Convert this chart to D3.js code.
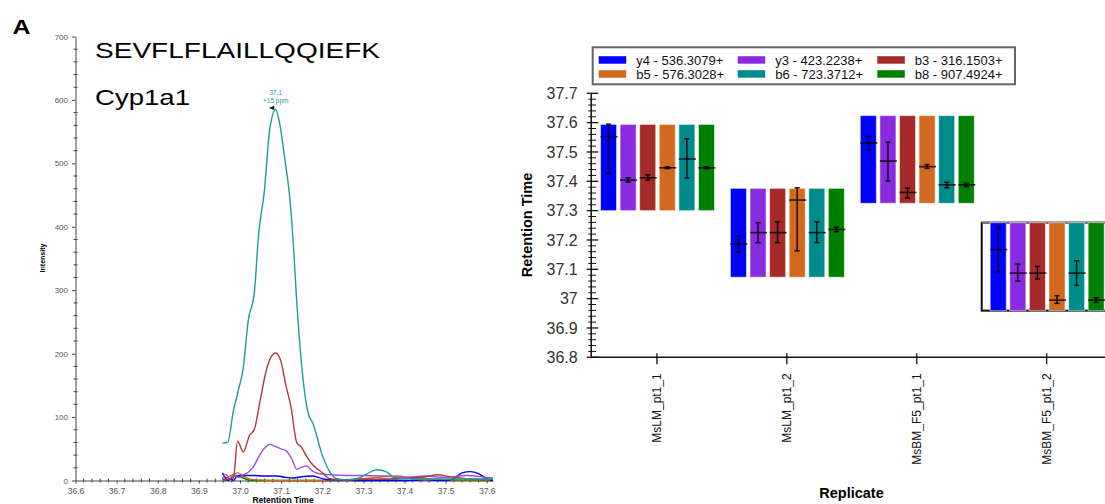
<!DOCTYPE html>
<html><head><meta charset="utf-8">
<script src="https://cdn.jsdelivr.net/npm/d3@7"></script>
<style>body{margin:0;background:#fff}svg{display:block;font-family:"Liberation Sans",Arial,sans-serif}</style>
</head><body><svg id="c" width="1105" height="504"></svg>
<script>
// ---------- Chromatogram (left) data ----------
const chromXTicks = [36.6, 36.7, 36.8, 36.9, 37.0, 37.1, 37.2, 37.3, 37.4, 37.5, 37.6];
const chromYTicks = [0, 100, 200, 300, 400, 500, 600, 700];
const b6Trace = [[36.957,59],[36.970,60],[36.984,110],[36.996,142],[37.008,178],[37.020,252],[37.035,297],[37.045,386],[37.059,455],[37.073,557],[37.087,585],[37.098,557],[37.109,507],[37.122,439],[37.130,370],[37.137,292],[37.165,108],[37.178,89],[37.199,42],[37.219,13],[37.235,3],[37.26,1],[37.29,4],[37.31,11],[37.333,17],[37.355,14],[37.375,5],[37.40,3],[37.45,2],[37.50,2],[37.55,3],[37.60,2],[37.615,2]];
const b3Trace = [[36.957,1],[36.970,2],[36.984,4],[36.994,62],[37.008,45],[37.023,71],[37.035,81],[37.049,126],[37.063,171],[37.075,194],[37.087,201],[37.099,189],[37.111,152],[37.124,116],[37.138,60],[37.150,52],[37.162,38],[37.178,24],[37.199,13],[37.219,3],[37.25,1],[37.30,2],[37.35,2],[37.40,3],[37.45,6],[37.48,9],[37.51,6],[37.55,3],[37.60,2],[37.615,2]];
const y3Trace = [[36.957,2],[36.965,10],[36.975,3],[36.984,8],[36.996,5],[37.008,9],[37.020,13],[37.032,21],[37.047,39],[37.061,52],[37.073,57],[37.085,54],[37.099,50],[37.112,47],[37.126,34],[37.138,18],[37.150,21],[37.162,23],[37.174,16],[37.190,11],[37.22,9],[37.26,8],[37.30,8],[37.35,7],[37.40,5],[37.45,7],[37.50,5],[37.55,8],[37.60,5],[37.615,4]];
const y4Trace = [[36.957,12],[36.965,4],[36.972,0],[36.978,3],[36.984,0],[36.992,6],[37.00,8],[37.03,8],[37.06,7],[37.09,7],[37.11,5],[37.13,4],[37.15,6],[37.175,7],[37.20,3],[37.22,1],[37.25,1],[37.30,0],[37.40,0],[37.45,1],[37.50,0],[37.52,3],[37.54,12],[37.56,14],[37.58,11],[37.60,3],[37.615,0]];
const b5Trace = [[36.957,0],[36.970,5],[36.985,10],[36.995,12],[37.005,8],[37.02,3],[37.04,1],[37.10,0],[37.20,0],[37.25,1],[37.30,3],[37.35,6],[37.38,7],[37.42,4],[37.50,2],[37.60,1],[37.615,1]];
const b8Trace = [[36.957,0],[36.975,2],[36.990,8],[37.000,6],[37.015,2],[37.03,0],[37.20,0],[37.30,0],[37.35,2],[37.42,4],[37.50,1],[37.60,0],[37.615,0]];
const peakLabel = ["37.1", "+15 ppm"];

// ---------- Retention time (right) data ----------
const replicates = ["MsLM_pt1_1", "MsLM_pt1_2", "MsBM_F5_pt1_1", "MsBM_F5_pt1_2"];
const ionLabels = ["y4 - 536.3079+", "y3 - 423.2238+", "b3 - 316.1503+", "b5 - 576.3028+", "b6 - 723.3712+", "b8 - 907.4924+"];
const ionColors = ["#0000FF", "#8A2BE2", "#A52A2A", "#D2691E", "#008B8B", "#008000"];
const rtTicks = [36.8, 36.9, 37, 37.1, 37.2, 37.3, 37.4, 37.5, 37.6, 37.7];
const peakStart = [37.300, 37.073, 37.325, 36.959];
const peakEnd   = [37.594, 37.376, 37.624, 37.259];
// [ion][replicate]
const apexRT = [
  [37.552, 37.186, 37.531, 37.167],
  [37.404, 37.225, 37.469, 37.087],
  [37.412, 37.225, 37.362, 37.087],
  [37.446, 37.336, 37.450, 36.995],
  [37.476, 37.225, 37.388, 37.087],
  [37.446, 37.236, 37.388, 36.995]];
const rangeLow = [
  [37.427, 37.159, 37.507, 37.091],
  [37.397, 37.191, 37.401, 37.060],
  [37.404, 37.191, 37.343, 37.067],
  [37.443, 37.163, 37.444, 36.984],
  [37.411, 37.191, 37.378, 37.045],
  [37.443, 37.228, 37.382, 36.987]];
const rangeHigh = [
  [37.595, 37.213, 37.553, 37.243],
  [37.412, 37.259, 37.534, 37.118],
  [37.422, 37.262, 37.377, 37.110],
  [37.449, 37.378, 37.457, 37.010],
  [37.545, 37.262, 37.397, 37.129],
  [37.449, 37.244, 37.393, 37.003]];
const selectedReplicate = 3;

const svg = d3.select("#c");

// ---------- Panel label & titles (source image is horizontally stretched) ----------
svg.append("text").attr("x", 12.5).attr("y", 34).attr("font-size", 20).attr("font-weight", "bold")
  .attr("textLength", 18).attr("lengthAdjust", "spacingAndGlyphs").text("A");
svg.append("text").attr("x", 95).attr("y", 57.5).attr("font-size", 22)
  .attr("textLength", 285).attr("lengthAdjust", "spacingAndGlyphs").text("SEVFLFLAILLQQIEFK");
svg.append("text").attr("x", 95).attr("y", 104.5).attr("font-size", 22)
  .attr("textLength", 95).attr("lengthAdjust", "spacingAndGlyphs").text("Cyp1a1");

// ---------- Left chromatogram ----------
const cx = d3.scaleLinear().domain([36.6, 37.615]).range([75.5, 492.9]);
const cy = d3.scaleLinear().domain([0, 700]).range([480.5, 36.5]);

const lg = svg.append("g");
const yAx = lg.append("g").attr("transform", "translate(75.5,0)")
  .call(d3.axisLeft(cy).tickValues(chromYTicks).tickSizeInner(3.5).tickSizeOuter(0).tickPadding(4).tickFormat(d3.format("d")));
yAx.selectAll("text").attr("font-size", 8).attr("fill", "#555").attr("font-family", "Liberation Sans, Arial");
yAx.selectAll("line,path").attr("stroke", "#444");
const yMinor = d3.range(0, 701, 20).filter(v => v % 100 !== 0);
lg.append("g").selectAll("line").data(yMinor).join("line")
  .attr("x1", 73.5).attr("x2", 77.5).attr("y1", d => cy(d)).attr("y2", d => cy(d)).attr("stroke", "#444");
const xAx = lg.append("g").attr("transform", "translate(0,480.5)")
  .call(d3.axisBottom(cx).tickValues(chromXTicks).tickSizeInner(3).tickSizeOuter(0).tickPadding(4).tickFormat(d3.format(".1f")));
xAx.selectAll("text").attr("font-size", 8.5).attr("fill", "#555").attr("font-family", "Liberation Sans, Arial");
xAx.selectAll("line,path").attr("stroke", "#444");
const xMinor = d3.range(0, 51).map(i => 36.6 + i * 0.02).filter(v => Math.abs(v * 10 - Math.round(v * 10)) > 1e-6 && v <= 37.615);
lg.append("g").selectAll("line").data(xMinor).join("line")
  .attr("x1", d => cx(d)).attr("x2", d => cx(d)).attr("y1", 478.5).attr("y2", 482.5).attr("stroke", "#444");
lg.append("text").attr("transform", "translate(45,258) rotate(-90)").attr("text-anchor", "middle")
  .attr("font-size", 7).attr("font-weight", "bold").text("Intensity");
lg.append("text").attr("x", 283).attr("y", 503).attr("text-anchor", "middle")
  .attr("font-size", 8.5).attr("font-weight", "bold").text("Retention Time");

const line = d3.line().x(d => cx(d[0])).y(d => cy(d[1])).curve(d3.curveMonotoneX);
const traces = [[b8Trace, ionColors[5]], [b5Trace, ionColors[3]], [y4Trace, ionColors[0]], [y3Trace, "#9B4DF0"], [b3Trace, "#B03A3A"], [b6Trace, "#1A9E9E"]];
lg.append("g").selectAll("path").data(traces).join("path")
  .attr("d", d => line(d[0])).attr("fill", "none").attr("stroke", d => d[1]).attr("stroke-width", 1.4);

const apex = b6Trace.reduce((a, b) => b[1] > a[1] ? b : a);
const ax = cx(apex[0]), ay = cy(apex[1]);
lg.append("text").attr("x", ax).attr("y", ay - 14).attr("text-anchor", "middle").attr("font-size", 6.5).attr("fill", "#20A0A0").text(peakLabel[0]);
lg.append("text").attr("x", ax).attr("y", ay - 6.5).attr("text-anchor", "middle").attr("font-size", 6.5).attr("fill", "#20A0A0").text(peakLabel[1]);
lg.append("path").attr("d", `M${ax - 7},${ay - 1.5} L${ax - 1.5},${ay - 3.8} L${ax - 1.5},${ay + 0.5} Z`).attr("fill", "#111");

// ---------- Right retention time chart ----------
const ry = d3.scaleLinear().domain([36.8, 37.7]).range([357.3, 93.3]);
const rx0 = d3.scaleBand().domain(replicates).range([592, 1111.6]);
const rx1 = d3.scaleBand().domain(ionLabels).range([8.5, 122.5]).paddingInner(0.18).paddingOuter(0);

const rg = svg.append("g");

const selRep = replicates[selectedReplicate];
rg.append("rect").attr("x", rx0(selRep)).attr("y", ry(peakEnd[selectedReplicate]))
  .attr("width", rx0.bandwidth() + 5).attr("height", ry(peakStart[selectedReplicate]) - ry(peakEnd[selectedReplicate]))
  .attr("fill", "#fff").attr("stroke", "#111").attr("stroke-width", 2);
rg.append("line").attr("x1", rx0(selRep)).attr("x2", 1105).attr("y1", ry(peakEnd[selectedReplicate])).attr("y2", ry(peakEnd[selectedReplicate]))
  .attr("stroke", "#777").attr("stroke-width", 2);

const cells = [];
replicates.forEach((r, ri) => ionLabels.forEach((ion, ii) => cells.push({ r, ri, ion, ii })));
const cg = rg.append("g").selectAll("g").data(cells).join("g")
  .attr("transform", d => `translate(${rx0(d.r) + rx1(d.ion)},0)`);
const bw = rx1.bandwidth();
cg.append("rect").attr("x", 0).attr("width", bw)
  .attr("y", d => ry(peakEnd[d.ri])).attr("height", d => ry(peakStart[d.ri]) - ry(peakEnd[d.ri]))
  .attr("fill", d => ionColors[d.ii]).attr("stroke", "#fff").attr("stroke-opacity", 0.55).attr("stroke-width", 1);
cg.append("line").attr("x1", bw / 2).attr("x2", bw / 2)
  .attr("y1", d => ry(rangeHigh[d.ii][d.ri])).attr("y2", d => ry(rangeLow[d.ii][d.ri]))
  .attr("stroke", "#000").attr("stroke-opacity", 0.85).attr("stroke-width", 1.5);
cg.append("line").attr("x1", bw / 2 - 2.6).attr("x2", bw / 2 + 2.6)
  .attr("y1", d => ry(rangeHigh[d.ii][d.ri])).attr("y2", d => ry(rangeHigh[d.ii][d.ri]))
  .attr("stroke", "#000").attr("stroke-opacity", 0.85).attr("stroke-width", 1.5);
cg.append("line").attr("x1", bw / 2 - 2.6).attr("x2", bw / 2 + 2.6)
  .attr("y1", d => ry(rangeLow[d.ii][d.ri])).attr("y2", d => ry(rangeLow[d.ii][d.ri]))
  .attr("stroke", "#000").attr("stroke-opacity", 0.85).attr("stroke-width", 1.5);
cg.append("line").attr("x1", 0).attr("x2", bw + 1)
  .attr("y1", d => ry(apexRT[d.ii][d.ri])).attr("y2", d => ry(apexRT[d.ii][d.ri]))
  .attr("stroke", "#000").attr("stroke-opacity", 0.8).attr("stroke-width", 1.6);

const ryAx = rg.append("g").attr("transform", "translate(590.7,0)")
  .call(d3.axisLeft(ry).tickValues(rtTicks).tickSizeInner(0).tickSizeOuter(0).tickPadding(13).tickFormat(d => d3.format(".1f")(d).replace(/\.0$/, "")));
ryAx.selectAll("text").attr("font-size", 16).attr("fill", "#333").attr("font-family", "Liberation Sans, Arial");
ryAx.select("path").attr("stroke", "#111").attr("stroke-width", 1.5);
rg.append("g").selectAll("line").data(rtTicks).join("line")
  .attr("x1", 586.7).attr("x2", 598.3).attr("y1", d => ry(d)).attr("y2", d => ry(d)).attr("stroke", "#111").attr("stroke-width", 1.3);
const rtMinor = d3.range(0, 46).map(i => 36.8 + i * 0.02).filter(v => Math.abs(v * 10 - Math.round(v * 10)) > 1e-6);
rg.append("g").selectAll("line").data(rtMinor).join("line")
  .attr("x1", 588.3).attr("x2", 596).attr("y1", d => ry(d)).attr("y2", d => ry(d)).attr("stroke", "#111").attr("stroke-width", 1);

rg.append("line").attr("x1", 590.7).attr("x2", 1105).attr("y1", 357.3).attr("y2", 357.3).attr("stroke", "#111").attr("stroke-width", 1.5);
const rxAx = rg.append("g").attr("transform", "translate(0,357.3)")
  .call(d3.axisBottom(rx0).tickSizeInner(7).tickSizeOuter(0).tickPadding(0));
rxAx.select("path").remove();
rxAx.selectAll("line").attr("y1", -4).attr("stroke", "#111").attr("stroke-width", 1.3);
rxAx.selectAll("text").attr("font-size", 12).attr("fill", "#111").attr("font-family", "Liberation Sans, Arial")
  .attr("text-anchor", "end").attr("dy", null).attr("transform", "translate(4.5,16) rotate(-90)").attr("y", 0).attr("x", 0);

rg.append("text").attr("transform", "translate(532,225) rotate(-90)").attr("text-anchor", "middle")
  .attr("font-size", 14.5).attr("font-weight", "bold").text("Retention Time");
rg.append("text").attr("x", 851.5).attr("y", 498).attr("text-anchor", "middle")
  .attr("font-size", 14.5).attr("font-weight", "bold").text("Replicate");

const leg = rg.append("g");
leg.append("rect").attr("x", 592.7).attr("y", 47.3).attr("width", 422.3).attr("height", 37)
  .attr("fill", "#fff").attr("stroke", "#666").attr("stroke-width", 2);
const legCols = [598.7, 737.7, 877.3];
const legRows = [60, 74];
const li = leg.selectAll("g").data(ionLabels).join("g")
  .attr("transform", (d, i) => `translate(${legCols[i % 3]},${legRows[Math.floor(i / 3)]})`);
li.append("rect").attr("x", 0).attr("y", -3.8).attr("width", 27.5).attr("height", 7.5).attr("fill", (d, i) => ionColors[i]);
li.append("text").attr("x", 37.5).attr("y", 4.6).attr("font-size", 13).attr("fill", "#111").text(d => d);
</script></body></html>
